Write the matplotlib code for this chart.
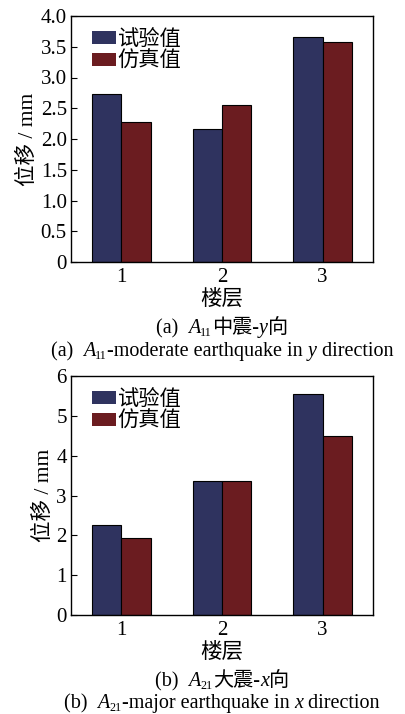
import numpy as np
import matplotlib
matplotlib.use("Agg")
from matplotlib import pyplot as plt
from matplotlib.patches import Patch

plt.rcParams['font.family'] = ['Liberation Serif', 'Noto Sans CJK SC']
plt.rcParams['axes.unicode_minus'] = False

floors = ["1", "2", "3"]
labels = ["试验值", "仿真值"]
colors = ["#2f335f", "#6b1c20"]

# (a) A11 moderate earthquake, y direction
test_a = [2.73, 2.16, 3.66]
sim_a = [2.27, 2.56, 3.57]
# (b) A21 major earthquake, x direction
test_b = [2.27, 3.36, 5.55]
sim_b = [1.94, 3.36, 4.49]

yticks_a = [0, 0.5, 1.0, 1.5, 2.0, 2.5, 3.0, 3.5, 4.0]
ytick_labels_a = ["0", "0.5", "1.0", "1.5", "2.0", "2.5", "3.0", "3.5", "4.0"]
yticks_b = [0, 1, 2, 3, 4, 5, 6]
ytick_labels_b = ["0", "1", "2", "3", "4", "5", "6"]

W, H = 406, 714
fig = plt.figure(figsize=(W / 100, H / 100), dpi=100)


def draw_panel(top, height, test, sim, yticks, yticklabels):
    ax = fig.add_axes([71 / W, 1 - (top + height) / H, 302 / W, height / H])
    x = np.arange(1, len(floors) + 1)
    w = 0.29
    ax.bar(x - w / 2, test, w, color=colors[0], edgecolor='black', linewidth=0.8)
    ax.bar(x + w / 2, sim, w, color=colors[1], edgecolor='black', linewidth=0.8)
    ax.set_xlim(0.5, 3.5)
    ax.set_ylim(yticks[0], yticks[-1])
    ax.set_xticks(x)
    ax.set_xticklabels(floors, fontsize=15)
    ax.set_yticks(yticks)
    ax.set_yticklabels(yticklabels, fontsize=15)
    ax.tick_params(axis='y', direction='in', length=4, width=0.8, pad=3)
    ax.tick_params(axis='x', length=0, pad=4)
    for s in ax.spines.values():
        s.set_linewidth(1.0)
    ax.set_ylabel("位移 / mm", fontsize=15.5, labelpad=2)
    ax.set_xlabel("楼层", fontsize=15.5, labelpad=2)
    handles = [Patch(facecolor=c, edgecolor='none') for c in colors]
    ax.legend(handles, labels, loc='upper left', bbox_to_anchor=(0.07, 1 - 12 / height),
              frameon=False, handlelength=1.1, handleheight=0.55,
              handletextpad=0.1, labelspacing=0.0, borderpad=0, borderaxespad=0,
              prop={'family': ['Noto Sans CJK SC'], 'size': 15.3})
    return ax


def put_line(y_px, pieces, cx_px, size=14.5):
    # lay out pieces of text side by side, centered at cx_px
    r = fig.canvas.get_renderer()
    texts = []
    widths = []
    for s, style, dy, scale in pieces:
        t = fig.text(0, 1 - (y_px - dy) / H, s, fontsize=size * scale,
                     fontstyle=style, ha='left', va='baseline')
        texts.append(t)
        widths.append(t.get_window_extent(r).width)
    x0 = cx_px - sum(widths) / 2
    for t, wd in zip(texts, widths):
        t.set_x(x0 / W)
        x0 += wd


ax1 = draw_panel(16, 246, test_a, sim_a, yticks_a, ytick_labels_a)
ax2 = draw_panel(376, 239, test_b, sim_b, yticks_b, ytick_labels_b)

cx = 222
put_line(333, [("(a)  ", 'normal', 0, 1), ("A", 'italic', 0, 1), ("11", 'normal', -3, 0.6),
               ("中震-", 'normal', 0, 1), ("y", 'italic', 0, 1), ("向", 'normal', 0, 1)], cx)
put_line(356, [("(a)  ", 'normal', 0, 1), ("A", 'italic', 0, 1), ("11", 'normal', -3, 0.6),
               ("-moderate earthquake in ", 'normal', 0, 1), ("y", 'italic', 0, 1),
               (" direction", 'normal', 0, 1)], cx)
put_line(686, [("(b)  ", 'normal', 0, 1), ("A", 'italic', 0, 1), ("21", 'normal', -3, 0.6),
               ("大震-", 'normal', 0, 1), ("x", 'italic', 0, 1), ("向", 'normal', 0, 1)], cx)
put_line(708, [("(b)  ", 'normal', 0, 1), ("A", 'italic', 0, 1), ("21", 'normal', -3, 0.6),
               ("-major earthquake in ", 'normal', 0, 1), ("x", 'italic', 0, 1),
               (" direction", 'normal', 0, 1)], cx)

fig.savefig("out.png", dpi=100)
